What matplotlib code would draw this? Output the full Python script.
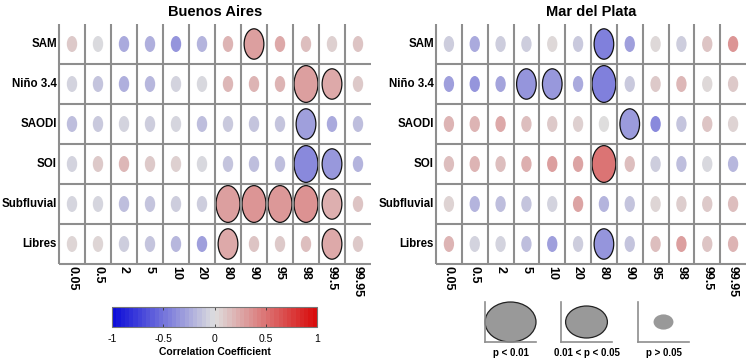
import matplotlib
matplotlib.use('Agg')
import matplotlib.pyplot as plt
import numpy as np
from matplotlib.patches import Ellipse
from matplotlib.colors import LinearSegmentedColormap
import matplotlib as mpl

plt.rcParams['font.family'] = ['Liberation Sans', 'DejaVu Sans']

# row / column labels
indices = ['SAM', 'Niño 3.4', 'SAODI', 'SOI', 'Subfluvial', 'Libres']
percentiles = ['0.05', '0.5', '2', '5', '10', '20', '80', '90', '95', '98', '99.5', '99.95']

# correlation values (rows = indices, cols = percentiles)
ba_corr = [
    [0.10, -0.02, -0.25, -0.22, -0.35, -0.20, 0.20, 0.30, 0.25, 0.15, 0.07, 0.12],
    [-0.05, -0.12, -0.22, -0.18, -0.05, -0.03, 0.18, 0.20, 0.20, 0.30, 0.25, 0.10],
    [-0.15, -0.10, -0.05, -0.08, -0.04, -0.15, -0.10, -0.12, -0.12, -0.30, -0.25, -0.15],
    [-0.05, 0.10, 0.18, 0.10, 0.07, -0.03, -0.12, -0.15, -0.15, -0.40, -0.33, -0.20],
    [-0.04, -0.04, -0.15, -0.12, -0.08, -0.08, 0.30, 0.35, 0.33, 0.36, 0.22, 0.12],
    [0.04, 0.04, -0.08, -0.12, -0.18, -0.30, 0.25, 0.12, 0.10, 0.15, 0.25, 0.10],
]
# significance: 0 -> p > 0.05, 1 -> 0.01 < p < 0.05, 2 -> p < 0.01
ba_sig = [
    [0, 0, 0, 0, 0, 0, 0, 1, 0, 0, 0, 0],
    [0, 0, 0, 0, 0, 0, 0, 0, 0, 2, 1, 0],
    [0, 0, 0, 0, 0, 0, 0, 0, 0, 1, 0, 0],
    [0, 0, 0, 0, 0, 0, 0, 0, 0, 2, 1, 0],
    [0, 0, 0, 0, 0, 0, 2, 2, 2, 2, 1, 0],
    [0, 0, 0, 0, 0, 0, 1, 0, 0, 0, 1, 0],
]

mdp_corr = [
    [-0.08, -0.25, -0.08, -0.08, 0.03, -0.10, -0.45, -0.30, 0.03, -0.08, 0.12, 0.35],
    [-0.30, -0.35, -0.28, -0.35, -0.33, -0.25, -0.45, -0.10, 0.10, 0.18, 0.03, 0.10],
    [0.20, 0.20, 0.25, 0.15, 0.10, 0.07, 0.00, -0.32, -0.40, -0.12, 0.12, 0.05],
    [0.15, 0.20, 0.15, 0.22, 0.30, 0.28, 0.50, 0.15, -0.08, -0.15, -0.03, -0.18],
    [0.05, -0.20, -0.15, -0.12, -0.05, 0.28, -0.20, -0.12, 0.04, 0.08, 0.10, 0.15],
    [0.20, -0.05, -0.05, -0.15, -0.30, -0.08, -0.35, -0.12, 0.15, 0.30, 0.12, 0.20],
]
mdp_sig = [
    [0, 0, 0, 0, 0, 0, 1, 0, 0, 0, 0, 0],
    [0, 0, 0, 1, 1, 0, 2, 0, 0, 0, 0, 0],
    [0, 0, 0, 0, 0, 0, 0, 1, 0, 0, 0, 0],
    [0, 0, 0, 0, 0, 0, 2, 0, 0, 0, 0, 0],
    [0, 0, 0, 0, 0, 0, 0, 0, 0, 0, 0, 0],
    [0, 0, 0, 0, 0, 0, 1, 0, 0, 0, 0, 0],
]

legend_labels = ['p < 0.01', '0.01 < p < 0.05', 'p > 0.05']

cmap_colors = [(0.05, 0.05, 0.85), (0.87, 0.87, 0.87), (0.85, 0.05, 0.05)]
cmap = LinearSegmentedColormap.from_list('bwr_gray', cmap_colors)
cmap_steps = LinearSegmentedColormap.from_list('bwr_gray_s', cmap_colors, N=48)
norm = mpl.colors.Normalize(-1, 1)

diam = [0.40, 0.76, 0.92]
line_col = '#8e8e8e'


def draw_grid(ax, corr, sig, title):
    corr = np.array(corr)
    sig = np.array(sig)
    nr, nc = corr.shape
    for r in range(nr):
        for c in range(nc):
            ax.plot([c, c], [r, r + 1], color=line_col, lw=1.5, clip_on=False,
                    solid_capstyle='butt')
            ax.plot([c, c + 1], [r + 1, r + 1], color=line_col, lw=1.5,
                    clip_on=False, solid_capstyle='butt')
            d = diam[sig[r, c]]
            if sig[r, c] > 0:
                ec, lw = '#111111', 0.9
            else:
                ec, lw = 'none', 0
            e = Ellipse((c + 0.5, r + 0.5), d, d, facecolor=cmap(norm(corr[r, c])),
                        edgecolor=ec, lw=lw)
            ax.add_patch(e)
    ax.set_xlim(0, nc)
    ax.set_ylim(nr, 0)
    ax.axis('off')
    for r in range(nr):
        ax.text(-0.08, r + 0.5, indices[r], ha='right', va='center',
                fontweight='bold', fontsize=8.3)
    for c in range(nc):
        ax.text(c + 0.5, nr + 0.05, percentiles[c], ha='center', va='top',
                rotation=270, fontweight='bold', fontsize=9)
    ax.set_title(title, fontweight='bold', fontsize=10.5, pad=6)


fig = plt.figure(figsize=(7.48, 3.6), dpi=100)

ax1 = fig.add_axes([59 / 748, 1 - 264 / 360, 312 / 748, 240 / 360])
draw_grid(ax1, ba_corr, ba_sig, 'Buenos Aires')
ax2 = fig.add_axes([436 / 748, 1 - 264 / 360, 310 / 748, 240 / 360])
draw_grid(ax2, mdp_corr, mdp_sig, 'Mar del Plata')

# colorbar
cax = fig.add_axes([112 / 748, 1 - 327 / 360, 205 / 748, 20 / 360])
cb = mpl.colorbar.ColorbarBase(cax, cmap=cmap_steps, norm=norm, orientation='horizontal')
cb.set_ticks([-1, -0.5, 0, 0.5, 1])
cb.set_ticklabels(['-1', '-0.5', '0', '0.5', '1'])
cax.tick_params(axis='x', direction='in', length=2.5, width=0.6, labelsize=7.5,
                pad=5, top=True, color='#333333')
cb.outline.set_edgecolor('#777777')
cb.outline.set_linewidth(0.8)
cb.set_label('Correlation Coefficient', fontweight='bold', fontsize=7.5, labelpad=2)

# significance legend
leg_lefts = [485, 561, 638]
leg_diam = [(1.0, 1.0), (0.82, 0.8), (0.39, 0.38)]
for i in range(3):
    lax = fig.add_axes([leg_lefts[i] / 748, 1 - 342 / 360, 51 / 748, 40 / 360])
    lax.set_xlim(0, 1)
    lax.set_ylim(0, 1)
    lax.set_xticks([])
    lax.set_yticks([])
    for s in ['top', 'right']:
        lax.spines[s].set_visible(False)
    for s in ['left', 'bottom']:
        lax.spines[s].set_color(line_col)
        lax.spines[s].set_linewidth(1.2)
    w, h = leg_diam[i]
    ec = '#222222' if i < 2 else 'none'
    lax.add_patch(Ellipse((0.5, 0.5), w, h, facecolor='#999999', edgecolor=ec,
                          lw=0.9, clip_on=False))
    lax.text(0.5, -0.28, legend_labels[i], ha='center', va='center',
             transform=lax.transAxes, fontweight='bold', fontsize=7)

fig.savefig('out.png', dpi=100)
